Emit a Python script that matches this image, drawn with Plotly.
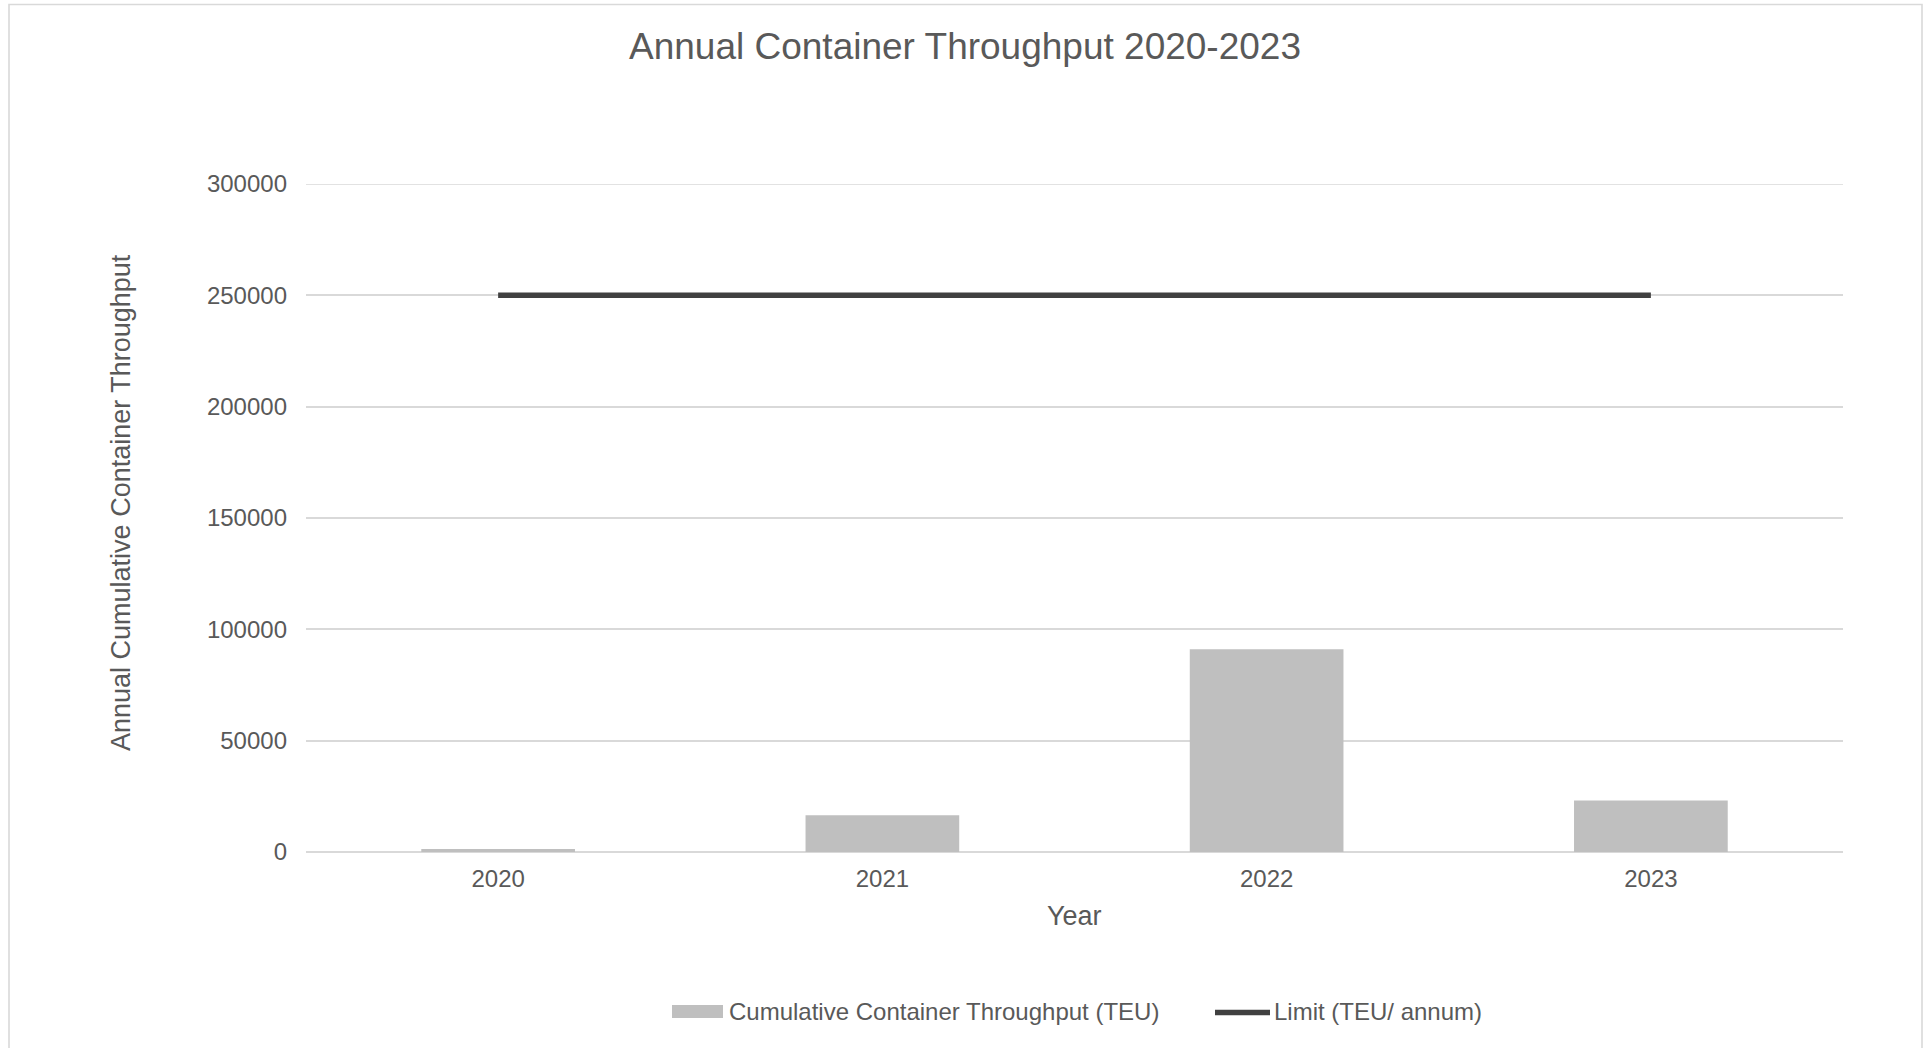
import plotly.graph_objects as go

# Data
years = ["2020", "2021", "2022", "2023"]
throughput_teu = [1400, 16500, 91000, 23100]
limit_teu = [250000, 250000, 250000, 250000]
y_ticks = [0, 50000, 100000, 150000, 200000, 250000, 300000]

# Page / plot-area geometry (pixels)
WIDTH, HEIGHT = 1930, 1048
L, R, T, B = 306, 1843, 184, 852
PW, PH = R - L, B - T

FONT = "Liberation Sans, Arial, sans-serif"
TXT = "#595959"
GRID = "#d9d9d9"
BAR = "#bfbfbf"
LINE = "#404040"


def px_x(px):
    return (px - L) / PW


def px_y(py):
    return (B - py) / PH


fig = go.Figure()

fig.add_trace(go.Bar(
    x=years, y=throughput_teu,
    name="Cumulative Container Throughput (TEU)",
    marker=dict(color=BAR, line=dict(width=0)),
    showlegend=False,
))

fig.add_trace(go.Scatter(
    x=years, y=limit_teu,
    mode="lines",
    name="Limit (TEU/ annum)",
    line=dict(color=LINE, width=5.5),
    showlegend=False,
))

fig.update_layout(
    width=WIDTH, height=HEIGHT,
    margin=dict(l=L, r=WIDTH - R, t=T, b=HEIGHT - B, pad=0),
    paper_bgcolor="white", plot_bgcolor="white",
    font=dict(family=FONT, color=TXT, size=24),
    bargap=0.6,
    title=dict(
        text="Annual Container Throughput 2020-2023",
        font=dict(family=FONT, size=37, color=TXT),
        x=0.5, xref="container", xanchor="center",
        y=1 - 46 / HEIGHT, yref="container", yanchor="middle",
    ),
    xaxis=dict(
        type="category", range=[-0.5, 3.5],
        showgrid=False, zeroline=False, showline=False,
        ticks="", ticklabelstandoff=10,
        tickfont=dict(family=FONT, size=24, color=TXT),
    ),
    yaxis=dict(
        range=[0, 300000], tickvals=y_ticks,
        ticktext=[str(v) for v in y_ticks],
        showgrid=True, gridcolor=GRID, gridwidth=1.6,
        zeroline=True, zerolinecolor=GRID, zerolinewidth=1.6,
        showline=False, ticks="", ticklabelstandoff=18,
        tickfont=dict(family=FONT, size=24, color=TXT),
    ),
    showlegend=False,
)

# Top gridline sits on the edge of the plot area, so draw it explicitly
fig.add_shape(type="line", xref="paper", yref="y",
              x0=0, x1=1, y0=y_ticks[-1], y1=y_ticks[-1],
              line=dict(color=GRID, width=1.6), layer="below")

# Axis titles
fig.add_annotation(
    text="Year", xref="paper", yref="paper",
    x=px_x((L + R) / 2), y=px_y(916), xanchor="center", yanchor="middle",
    showarrow=False, font=dict(family=FONT, size=27, color=TXT),
)
fig.add_annotation(
    text="Annual Cumulative Container Throughput", xref="paper", yref="paper",
    x=px_x(121), y=px_y(503), xanchor="center", yanchor="middle", textangle=-90,
    showarrow=False, font=dict(family=FONT, size=27, color=TXT),
)

# Legend (drawn below the plot)
fig.add_shape(type="rect", xref="paper", yref="paper",
              x0=px_x(672), x1=px_x(723), y0=px_y(1018), y1=px_y(1005),
              fillcolor=BAR, line=dict(width=0))
fig.add_annotation(
    text="Cumulative Container Throughput (TEU)", xref="paper", yref="paper",
    x=px_x(727), y=px_y(1011.5), xanchor="left", yanchor="middle",
    showarrow=False, font=dict(family=FONT, size=24, color=TXT),
)
fig.add_shape(type="line", xref="paper", yref="paper",
              x0=px_x(1215), x1=px_x(1270), y0=px_y(1012.5), y1=px_y(1012.5),
              line=dict(color=LINE, width=5.5))
fig.add_annotation(
    text="Limit (TEU/ annum)", xref="paper", yref="paper",
    x=px_x(1272), y=px_y(1011.5), xanchor="left", yanchor="middle",
    showarrow=False, font=dict(family=FONT, size=24, color=TXT),
)

# Chart frame
fig.add_shape(type="rect", xref="paper", yref="paper",
              x0=px_x(9), x1=px_x(1922), y0=px_y(1070), y1=px_y(4.5),
              fillcolor="rgba(0,0,0,0)", line=dict(color=GRID, width=1.6),
              layer="below")

fig.write_html("out.html")
